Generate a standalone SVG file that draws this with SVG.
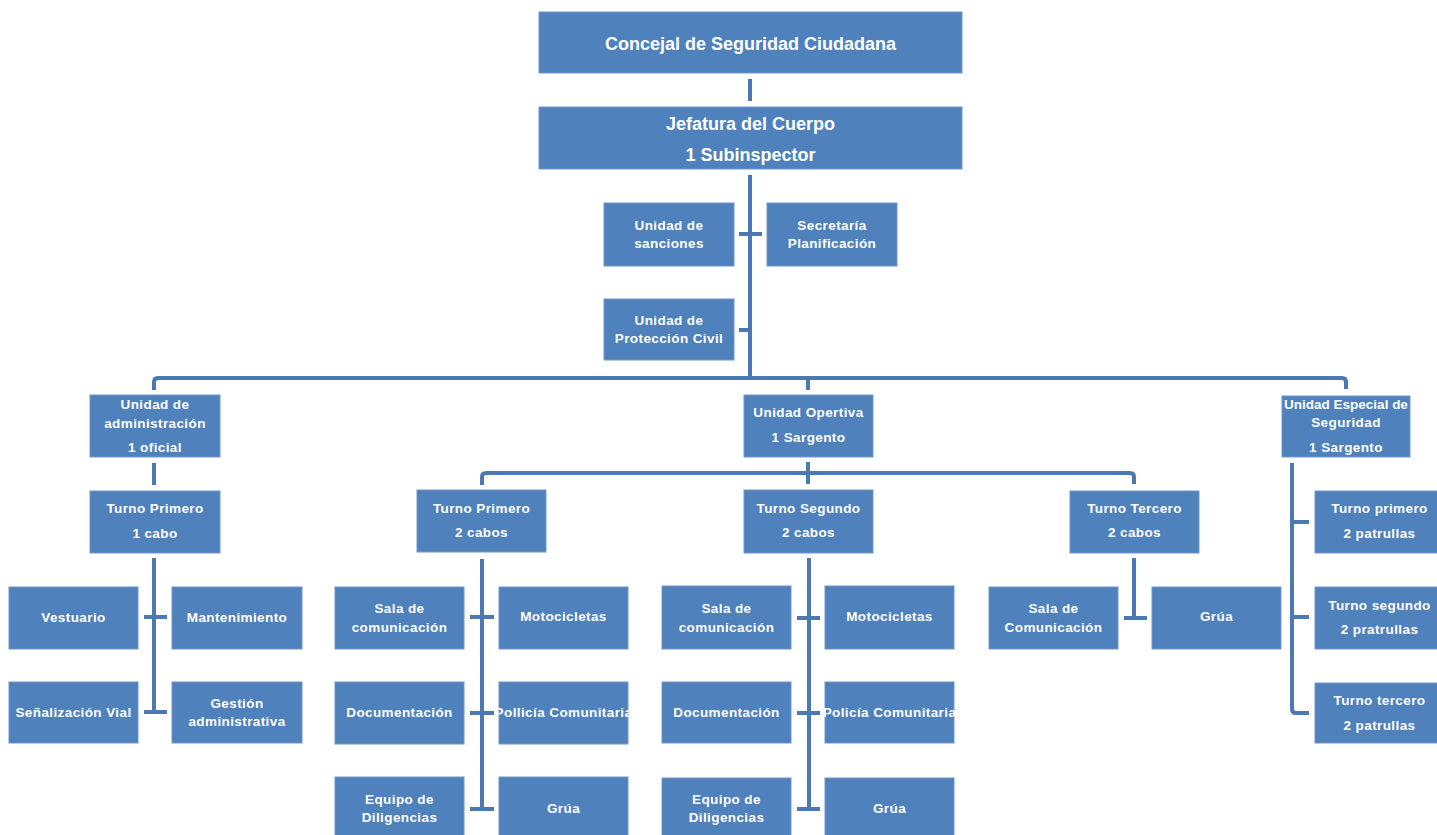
<svg xmlns="http://www.w3.org/2000/svg" width="1437" height="835" viewBox="0 0 1437 835">
<style>
.b{fill:#4F81BD;stroke:#7096C8;stroke-width:1}
.t{fill:#FFFFFF;font-family:"Liberation Sans",Arial,sans-serif;font-weight:bold;font-size:13.5px;letter-spacing:0.4px;text-anchor:middle}
.tl{fill:#FFFFFF;font-family:"Liberation Sans",Arial,sans-serif;font-weight:bold;font-size:18px;text-anchor:middle}
.c{fill:none;stroke:#4A79B3;stroke-width:4;stroke-linejoin:round}
</style>
<rect width="1437" height="835" fill="#FFFFFF"/>
<g id="connectors">
<path class="c" d="M750,79V101"/>
<path class="c" d="M750,175V378"/>
<path class="c" d="M739,234H762M739,330H750"/>
<path class="c" d="M154,390V382Q154,378 158,378H1342Q1346,378 1346,382V389"/>
<path class="c" d="M808,378V390"/>
<path class="c" d="M154,463V485"/>
<path class="c" d="M154,558V712M144,617H167M144,712H167"/>
<path class="c" d="M808,462V484"/>
<path class="c" d="M482,485V477Q482,473 486,473H1130Q1134,473 1134,477V484"/>
<path class="c" d="M482,559V809M470,617H494M470,713H494M470,809H494"/>
<path class="c" d="M809,558V809M797,618H820M797,713H820M797,809H820"/>
<path class="c" d="M1134,558V618M1124,618H1147"/>
<path class="c" d="M1292,463V709Q1292,713 1296,713H1309M1292,522H1309M1292,617H1309"/>
</g>
<g id="n-concejal"><rect class="b" x="539" y="12" width="423" height="61"/><text class="tl" x="750.5" y="49.5">Concejal de Seguridad Ciudadana</text></g>
<g id="n-jefatura"><rect class="b" x="539" y="107" width="423" height="62"/><text class="tl" x="750.5" y="129.5">Jefatura del Cuerpo</text><text class="tl" x="750.5" y="160.5">1 Subinspector</text></g>
<g id="n-sanciones"><rect class="b" x="604" y="203" width="130" height="63"/><text class="t" x="669" y="229.5">Unidad de</text><text class="t" x="669" y="247.5">sanciones</text></g>
<g id="n-secretaria"><rect class="b" x="767" y="203" width="130" height="63"/><text class="t" x="832" y="229.5">Secretaría</text><text class="t" x="832" y="247.5">Planificación</text></g>
<g id="n-proteccion"><rect class="b" x="604" y="299" width="130" height="61"/><text class="t" x="669" y="324.5">Unidad de</text><text class="t" x="669" y="342.5">Protección Civil</text></g>
<g id="n-administracion"><rect class="b" x="90" y="395" width="130" height="62"/><text class="t" x="155" y="408.5">Unidad de</text><text class="t" x="155" y="427.5">administración</text><text class="t" x="155" y="451.5">1 oficial</text></g>
<g id="n-operativa"><rect class="b" x="744" y="395" width="129" height="62"/><text class="t" x="808.5" y="416.5">Unidad Opertiva</text><text class="t" x="808.5" y="441.5">1 Sargento</text></g>
<g id="n-especial"><rect class="b" x="1282" y="396" width="128" height="61"/><text class="t" x="1346" y="408.5" style="letter-spacing:0">Unidad Especial de</text><text class="t" x="1346" y="426.5">Seguridad</text><text class="t" x="1346" y="451.5">1 Sargento</text></g>
<g id="n-adm-turno"><rect class="b" x="90" y="491" width="130" height="62"/><text class="t" x="155" y="512.5">Turno Primero</text><text class="t" x="155" y="537.5">1 cabo</text></g>
<g id="n-vestuario"><rect class="b" x="9" y="587" width="129" height="62"/><text class="t" x="73.5" y="621.5">Vestuario</text></g>
<g id="n-mantenimiento"><rect class="b" x="172" y="587" width="130" height="62"/><text class="t" x="237" y="621.5">Mantenimiento</text></g>
<g id="n-senalizacion"><rect class="b" x="9" y="682" width="129" height="61"/><text class="t" x="73.5" y="716.5">Señalización Vial</text></g>
<g id="n-gestion"><rect class="b" x="172" y="682" width="130" height="61"/><text class="t" x="237" y="707.5">Gestión</text><text class="t" x="237" y="725.5">administrativa</text></g>
<g id="n-turno1"><rect class="b" x="417" y="490" width="129" height="62"/><text class="t" x="481.5" y="512.5">Turno Primero</text><text class="t" x="481.5" y="536.5">2 cabos</text></g>
<g id="n-t1-sala"><rect class="b" x="335" y="587" width="129" height="62"/><text class="t" x="399.5" y="612.5">Sala de</text><text class="t" x="399.5" y="631.5">comunicación</text></g>
<g id="n-t1-moto"><rect class="b" x="499" y="587" width="129" height="62"/><text class="t" x="563.5" y="620.5">Motocicletas</text></g>
<g id="n-t1-doc"><rect class="b" x="335" y="682" width="129" height="62"/><text class="t" x="399.5" y="716.5">Documentación</text></g>
<g id="n-t1-policia"><rect class="b" x="499" y="682" width="129" height="62"/><text class="t" x="563.5" y="716.5">Pollicía Comunitaria</text></g>
<g id="n-t1-equipo"><rect class="b" x="335" y="777" width="129" height="62"/><text class="t" x="399.5" y="803.5">Equipo de</text><text class="t" x="399.5" y="821.5">Diligencias</text></g>
<g id="n-t1-grua"><rect class="b" x="499" y="777" width="129" height="62"/><text class="t" x="563.5" y="812.5">Grúa</text></g>
<g id="n-turno2"><rect class="b" x="744" y="490" width="129" height="63"/><text class="t" x="808.5" y="512.5">Turno Segundo</text><text class="t" x="808.5" y="536.5">2 cabos</text></g>
<g id="n-t2-sala"><rect class="b" x="662" y="586" width="129" height="63"/><text class="t" x="726.5" y="612.5">Sala de</text><text class="t" x="726.5" y="631.5">comunicación</text></g>
<g id="n-t2-moto"><rect class="b" x="825" y="586" width="129" height="63"/><text class="t" x="889.5" y="620.5">Motocicletas</text></g>
<g id="n-t2-doc"><rect class="b" x="662" y="682" width="129" height="61"/><text class="t" x="726.5" y="716.5">Documentación</text></g>
<g id="n-t2-policia"><rect class="b" x="825" y="682" width="129" height="61"/><text class="t" x="889.5" y="716.5">Policía Comunitaria</text></g>
<g id="n-t2-equipo"><rect class="b" x="662" y="778" width="129" height="62"/><text class="t" x="726.5" y="803.5">Equipo de</text><text class="t" x="726.5" y="821.5">Diligencias</text></g>
<g id="n-t2-grua"><rect class="b" x="825" y="778" width="129" height="62"/><text class="t" x="889.5" y="812.5">Grúa</text></g>
<g id="n-turno3"><rect class="b" x="1070" y="491" width="129" height="62"/><text class="t" x="1134.5" y="512.5">Turno Tercero</text><text class="t" x="1134.5" y="536.5">2 cabos</text></g>
<g id="n-t3-sala"><rect class="b" x="989" y="587" width="129" height="62"/><text class="t" x="1053.5" y="612.5">Sala de</text><text class="t" x="1053.5" y="631.5">Comunicación</text></g>
<g id="n-t3-grua"><rect class="b" x="1152" y="587" width="129" height="62"/><text class="t" x="1216.5" y="620.5">Grúa</text></g>
<g id="n-e-turno1"><rect class="b" x="1315" y="491" width="129" height="62"/><text class="t" x="1379.5" y="512.5">Turno primero</text><text class="t" x="1379.5" y="537.5">2 patrullas</text></g>
<g id="n-e-turno2"><rect class="b" x="1315" y="587" width="129" height="62"/><text class="t" x="1379.5" y="609.5">Turno segundo</text><text class="t" x="1379.5" y="633.5">2 pratrullas</text></g>
<g id="n-e-turno3"><rect class="b" x="1315" y="683" width="129" height="60"/><text class="t" x="1379.5" y="704.5">Turno tercero</text><text class="t" x="1379.5" y="729.5">2 patrullas</text></g>
</svg>
